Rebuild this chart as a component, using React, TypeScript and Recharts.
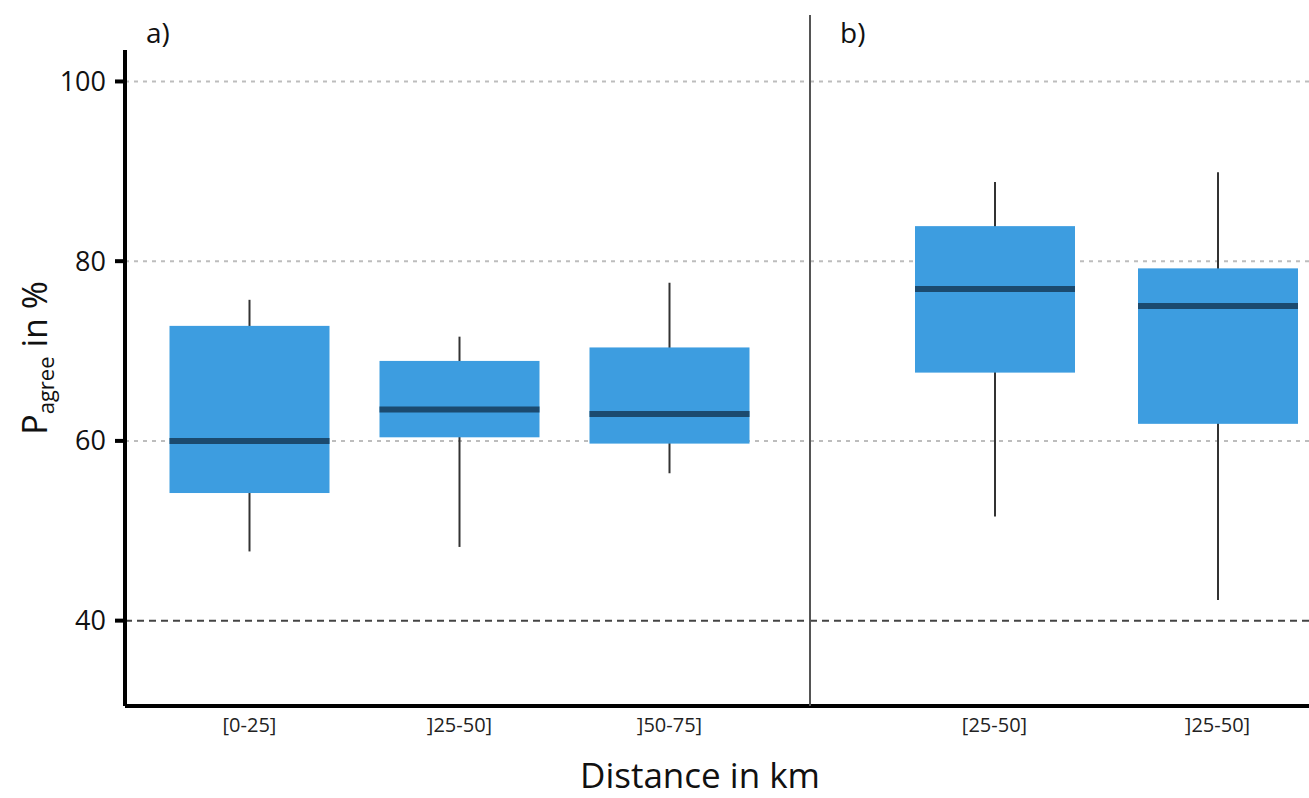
import React from 'react';
import { ComposedChart, Bar, XAxis, YAxis, ReferenceLine, CartesianGrid } from 'recharts';

// ---- Panel a) ----
const categoriesA = ['[0-25]', ']25-50]', ']50-75]'];
const whiskerLowA = [47.7, 48.2, 56.4];
const q1A = [54.2, 60.4, 59.7];
const medianA = [60.0, 63.5, 63.0];
const q3A = [72.8, 68.9, 70.4];
const whiskerHighA = [75.7, 71.6, 77.6];

// ---- Panel b) ----
const categoriesB = ['[25-50]', ']25-50]'];
const whiskerLowB = [51.6, 42.3];
const q1B = [67.6, 61.9];
const medianB = [76.9, 75.0];
const q3B = [83.9, 79.2];
const whiskerHighB = [88.8, 89.9];

const yTicks = [40, 60, 80, 100];
const lightGrid = [60, 80, 100];
const darkGrid = 40;
const yMin = 30.5;
const yMaxA = 103.5;

const FONT = "'Open Sans', 'DejaVu Sans', sans-serif";
const BOX_FILL = '#3d9de0';
const MEDIAN = '#1b4a6f';
const WHISKER = '#333333';

const build = (cats: string[], lo: number[], q1: number[], md: number[], q3: number[], hi: number[]) =>
  cats.map((c, i) => ({ cat: c, range: [lo[i], hi[i]], low: lo[i], q1: q1[i], med: md[i], q3: q3[i], high: hi[i] }));

const dataA = build(categoriesA, whiskerLowA, q1A, medianA, q3A, whiskerHighA);
const dataB = build(categoriesB, whiskerLowB, q1B, medianB, q3B, whiskerHighB);

const BoxShape = (props: any) => {
  const { x, y, width, height, payload } = props;
  if (payload == null || x == null) return null;
  const top = Math.min(y, y + height);
  const bottom = Math.max(y, y + height);
  const span = payload.high - payload.low;
  const toPx = (v: number) => top + ((payload.high - v) / span) * (bottom - top);
  const cx = x + width / 2;
  const yq3 = toPx(payload.q3);
  const yq1 = toPx(payload.q1);
  const ym = toPx(payload.med);
  return (
    <g>
      <line x1={cx} x2={cx} y1={top} y2={bottom} stroke={WHISKER} strokeWidth={2} />
      <rect x={x} y={yq3} width={width} height={yq1 - yq3} fill={BOX_FILL} />
      <line x1={x} x2={x + width} y1={ym} y2={ym} stroke={MEDIAN} strokeWidth={6} />
    </g>
  );
};

const EmptyTick = () => <g />;

const H = 798;
const MARGIN_BOTTOM = 52;
const XAXIS_H = 40;
const TOP_A = 50;
const TOP_B = 15;
const plotHA = H - TOP_A - MARGIN_BOTTOM - XAXIS_H;
const plotHB = H - TOP_B - MARGIN_BOTTOM - XAXIS_H;
const yMaxB = yMin + (plotHB * (yMaxA - yMin)) / plotHA;

const YLabel = (props: any) => {
  const vb = props.viewBox || { x: 0, y: TOP_A, width: 125, height: plotHA };
  const x = vb.x + 47;
  const y = vb.y + vb.height / 2 - 20;
  return (
    <text
      x={x}
      y={y}
      transform={`rotate(-90, ${x}, ${y})`}
      textAnchor="middle"
      fontFamily={FONT}
      fontSize={34}
      fill="#111"
    >
      <tspan>P</tspan>
      <tspan fontSize={22} dy={7}>agree</tspan>
      <tspan dy={-7}> in %</tspan>
    </text>
  );
};

export default function App() {
  return (
    <div
      style={{
        position: 'absolute',
        left: 0,
        top: 0,
        width: 1309,
        height: 798,
        overflow: 'hidden',
        background: '#ffffff',
        fontFamily: FONT,
      }}
    >
      {/* Panel a */}
      <div style={{ position: 'absolute', left: 0, top: 0 }}>
        <ComposedChart
          width={810}
          height={H}
          data={dataA}
          margin={{ top: TOP_A, right: 0, bottom: MARGIN_BOTTOM, left: 0 }}
        >
          <CartesianGrid
            vertical={false}
            horizontalValues={lightGrid}
            stroke="#bdbdbd"
            strokeDasharray="4 5"
            strokeWidth={2}
          />
          <ReferenceLine y={darkGrid} stroke="#444" strokeDasharray="7 5" strokeWidth={2} />
          <XAxis
            dataKey="cat"
            height={XAXIS_H}
            padding={{ left: 19.5, right: 35.5 }}
            axisLine={{ stroke: '#000', strokeWidth: 4 }}
            tickLine={false}
            tickSize={0}
            tickMargin={12}
            tick={{ fontSize: 20, fill: '#222', fontFamily: FONT }}
            interval={0}
          />
          <YAxis
            type="number"
            domain={[yMin, yMaxA]}
            ticks={yTicks}
            allowDataOverflow
            width={125}
            axisLine={{ stroke: '#000', strokeWidth: 4 }}
            tickLine={{ stroke: '#000', strokeWidth: 4 }}
            tickSize={10}
            tickMargin={9}
            tick={{ fontSize: 27, fill: '#111', fontFamily: FONT }}
            label={{ content: YLabel }}
          />
          <Bar dataKey="range" barSize={160} shape={BoxShape} isAnimationActive={false} />
        </ComposedChart>
      </div>

      {/* Panel b */}
      <div style={{ position: 'absolute', left: 808, top: 0 }}>
        <ComposedChart
          width={702}
          height={H}
          data={dataB}
          margin={{ top: TOP_B, right: 0, bottom: MARGIN_BOTTOM, left: 0 }}
        >
          <CartesianGrid
            vertical={false}
            horizontalValues={lightGrid}
            stroke="#bdbdbd"
            strokeDasharray="4 5"
            strokeWidth={2}
          />
          <ReferenceLine y={darkGrid} stroke="#444" strokeDasharray="7 5" strokeWidth={2} />
          <XAxis
            dataKey="cat"
            height={XAXIS_H}
            padding={{ left: 73, right: 181 }}
            axisLine={{ stroke: '#000', strokeWidth: 4 }}
            tickLine={false}
            tickSize={0}
            tickMargin={12}
            tick={{ fontSize: 20, fill: '#222', fontFamily: FONT }}
            interval={0}
          />
          <YAxis
            type="number"
            domain={[yMin, yMaxB]}
            ticks={yTicks}
            allowDataOverflow
            width={2}
            axisLine={{ stroke: '#555', strokeWidth: 2 }}
            tickLine={false}
            tick={EmptyTick}
          />
          <Bar dataKey="range" barSize={160} shape={BoxShape} isAnimationActive={false} />
        </ComposedChart>
      </div>

      {/* Panel tags */}
      <div style={{ position: 'absolute', left: 146, top: 14, fontSize: 28, color: '#111', lineHeight: '36px' }}>a)</div>
      <div style={{ position: 'absolute', left: 840, top: 14, fontSize: 28, color: '#111', lineHeight: '36px' }}>b)</div>

      {/* X-axis title */}
      <div
        style={{
          position: 'absolute',
          left: 500,
          width: 400,
          top: 752,
          textAlign: 'center',
          fontSize: 35,
          color: '#111',
          lineHeight: '46px',
        }}
      >
        Distance in km
      </div>
    </div>
  );
}
